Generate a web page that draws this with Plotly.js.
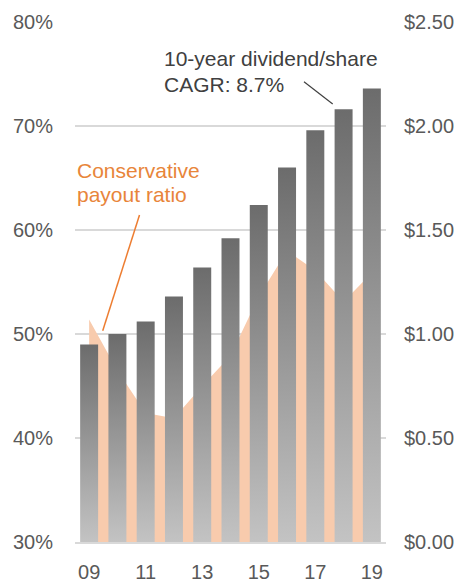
<!DOCTYPE html>
<html><head><meta charset="utf-8">
<script src="https://cdn.plot.ly/plotly-3.0.1.min.js"></script>
<style>html,body{margin:0;padding:0;background:#fff}#chart{width:464px;height:585px}</style>
</head><body><div id="chart"></div>
<script>
const years = ['09','10','11','12','13','14','15','16','17','18','19'];
const payoutRatio = [51.4,46.5,42.4,41.9,45.0,47.9,53.6,58.0,56.1,53.1,55.9];
const dividendPerShare = [0.95,1.00,1.06,1.18,1.32,1.46,1.62,1.80,1.98,2.08,2.18];
const xTickLabels = ['09','11','13','15','17','19'];
const leftTicks = [30,40,50,60,70,80];
const leftTickText = ['30%','40%','50%','60%','70%','80%'];
const rightTicks = [0,0.5,1,1.5,2,2.5];
const rightTickText = ['$0.00','$0.50','$1.00','$1.50','$2.00','$2.50'];

const FONT = 'Liberation Sans, Arial, sans-serif';
const TICK = '#595959';

const traces = [
  {type:'scatter', mode:'lines', x:years, y:payoutRatio, fill:'tozeroy',
   fillcolor:'#F8CBAD', line:{width:0, color:'#F8CBAD'}, yaxis:'y', hoverinfo:'skip'},
  {type:'bar', x:years, y:dividendPerShare, yaxis:'y2',
   marker:{color:'#8a8a8a', line:{width:0}}, hoverinfo:'skip'}
];

const layout = {
  width:464, height:585,
  margin:{l:75, r:78, t:22, b:43},
  paper_bgcolor:'#fff', plot_bgcolor:'rgba(0,0,0,0)',
  showlegend:false, bargap:0.364,
  font:{family:FONT, color:TICK, size:20},
  xaxis:{type:'category', tickmode:'array', tickvals:xTickLabels, ticktext:xTickLabels,
    showgrid:false, zeroline:false, showline:true, linecolor:'#d9d9d9', linewidth:2,
    ticks:'', ticklabelstandoff:11, tickfont:{size:20, color:TICK}, fixedrange:true},
  yaxis:{range:[30,80], tickmode:'array', tickvals:leftTicks, ticktext:leftTickText,
    showgrid:true, gridcolor:'#d9d9d9', gridwidth:2, zeroline:false, showline:false,
    ticks:'', ticklabelstandoff:21, tickfont:{size:20, color:TICK}},
  yaxis2:{range:[0,2.5], overlaying:'y', side:'right', tickmode:'array', tickvals:rightTicks,
    ticktext:rightTickText, showgrid:false, zeroline:false, showline:false,
    ticks:'', ticklabelstandoff:17, tickfont:{size:20, color:TICK}},
  annotations:[
    {xref:'paper', yref:'paper', x:0.0, y:0.6888, xanchor:'left', yanchor:'bottom',
     text:'Conservative', showarrow:false, font:{family:FONT, size:21, color:'#E8853A'}},
    {xref:'paper', yref:'paper', x:0.0, y:0.6419, xanchor:'left', yanchor:'bottom',
     text:'payout ratio', showarrow:false, font:{family:FONT, size:21, color:'#E8853A'}},
    {xref:'paper', yref:'paper', x:0.2788, y:0.9035, xanchor:'left', yanchor:'bottom',
     text:'10-year dividend/share', showarrow:false, font:{family:FONT, size:21, color:'#404040'}},
    {xref:'paper', yref:'paper', x:0.2788, y:0.8535, xanchor:'left', yanchor:'bottom',
     text:'CAGR: 8.7%', showarrow:false, font:{family:FONT, size:21, color:'#404040'}}
  ],
  shapes:[
    {type:'line', xref:'paper', yref:'paper', x0:0.2074, y0:0.6288, x1:0.0891, y1:0.4063,
     line:{color:'#ED7D31', width:1.5}},
    {type:'line', xref:'paper', yref:'paper', x0:0.7363, y0:0.8852, x1:0.8286, y1:0.8423,
     line:{color:'#404040', width:1.2}}
  ]
};

Plotly.newPlot('chart', traces, layout, {staticPlot:true, displayModeBar:false}).then(function(){
  const svg = document.querySelector('#chart .main-svg');
  let defs = svg.querySelector('defs');
  const NS = 'http://www.w3.org/2000/svg';
  if(!defs){ defs = document.createElementNS(NS,'defs'); svg.insertBefore(defs, svg.firstChild); }
  const g = document.createElementNS(NS,'linearGradient');
  g.setAttribute('id','barGrad'); g.setAttribute('x1','0'); g.setAttribute('y1','0');
  g.setAttribute('x2','0'); g.setAttribute('y2','1');
  [['0','#6c6c6c'],['1','#c3c3c3']].forEach(function(s){
    const st = document.createElementNS(NS,'stop');
    st.setAttribute('offset', s[0]); st.setAttribute('stop-color', s[1]);
    g.appendChild(st);
  });
  defs.appendChild(g);
  document.querySelectorAll('#chart .barlayer .point path').forEach(function(p){
    p.style.fill = 'url(#barGrad)';
  });
});
</script>
</body></html>
